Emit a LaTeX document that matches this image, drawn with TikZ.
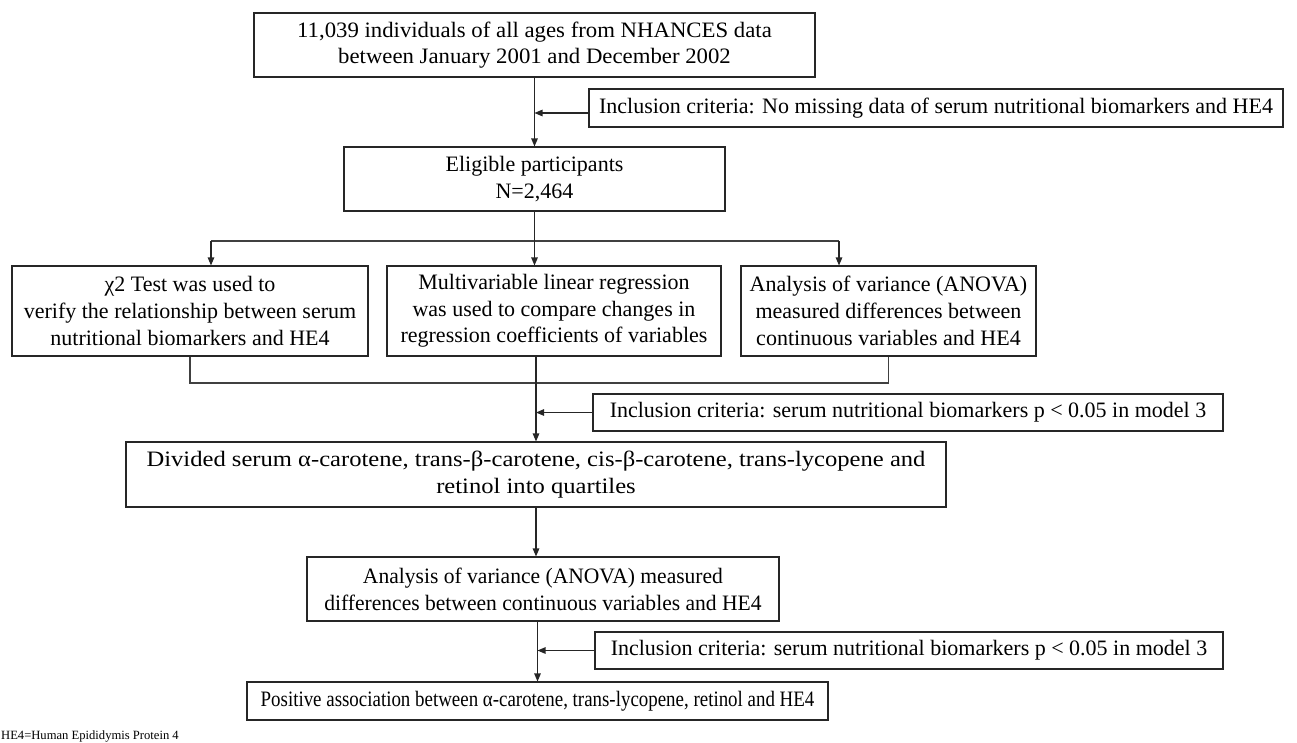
\documentclass[tikz,border=0pt]{standalone}
\usepackage{fontspec}
\setmainfont{Liberation Serif}
\usetikzlibrary{arrows.meta,calc}
\begin{document}
\begin{tikzpicture}[x=1pt,y=-1pt,
  box/.style={draw=black!85, line width=1.1pt, inner sep=0pt, align=center,
    font=\fontsize{22}{26.7}\selectfont},
  arr/.style={line width=1.1pt, draw=black!85, -{Triangle[length=8pt,width=6.5pt]}},
  ln/.style={line width=1.1pt, draw=black!75}]
\useasboundingbox (0,0) rectangle (1297,742);

\node[box, minimum width=561pt, minimum height=64pt] (top) at (534.5,45)
  {\scalebox{1.035}[1]{11,039 individuals of all ages from NHANCES data}\\\scalebox{1.035}[1]{between January 2001 and December 2002}};
\node[box, minimum width=694pt, minimum height=38pt] (inc1) at (936,108)
  {Inclusion criteria: No missing data of serum nutritional biomarkers and HE4};
\node[box, minimum width=381pt, minimum height=64pt] (elig) at (534.5,179)
  {Eligible participants\\N=2,464};
\node[box, minimum width=356pt, minimum height=90pt] (A) at (190,311)
  {χ2 Test was used to\\verify the relationship between serum\\nutritional biomarkers and HE4};
\node[box, minimum width=334pt, minimum height=90pt] (B) at (554,311)
  {Multivariable linear regression\\was used to compare changes in\\regression coefficients of variables};
\node[box, minimum width=295pt, minimum height=90pt] (C) at (888.5,311)
  {Analysis of variance (ANOVA)\\measured differences between\\continuous variables and HE4};
\node[box, minimum width=630pt, minimum height=37pt] (inc2) at (908,412.5)
  {Inclusion criteria: serum nutritional biomarkers p < 0.05 in model 3};
\node[box, minimum width=820pt, minimum height=65pt] (div) at (536,474.5)
  {\scalebox{1.118}[1]{Divided serum α-carotene, trans-β-carotene, cis-β-carotene, trans-lycopene and}\\\scalebox{1.118}[1]{retinol into quartiles}};
\node[box, minimum width=472pt, minimum height=64pt] (an2) at (543,589)
  {\scalebox{0.98}[1]{Analysis of variance (ANOVA) measured}\\\scalebox{0.98}[1]{differences between continuous variables and HE4}};
\node[box, minimum width=628pt, minimum height=37pt] (inc3) at (909,650.5)
  {Inclusion criteria: serum nutritional biomarkers p < 0.05 in model 3};
\node[box, minimum width=581pt, minimum height=38pt] (fin) at (537.5,701)
  {\scalebox{0.86}[1]{Positive association between α-carotene, trans-lycopene, retinol and HE4}};
\node[anchor=west, inner sep=0pt, font=\fontsize{12.6}{14}\selectfont] (note) at (1,736)
  {HE4=Human Epididymis Protein 4};

% top -> eligible
\draw[arr] (top.south) -- (elig.north);
\draw[arr] ([yshift=-5pt]inc1.west) -- ([yshift=-5pt]inc1.west -| top.south);

% split
\coordinate (sA) at (211,241);
\coordinate (sC) at (839,241);
\draw[ln] (sA) -- (sC);
\draw[arr] (elig.south) -- (elig.south |- B.north);
\draw[arr] (sA) -- (sA |- A.north);
\draw[arr] (sC) -- (sC |- C.north);

% merge
\coordinate (mrg) at (190,383);
\draw[ln] (A.south) -- (A.south |- mrg) -| (C.south);
\draw[arr] (B.south -| div.north) -- (div.north);
\draw[arr] (inc2.west) -- (inc2.west -| div.north);

% divided -> anova2
\draw[arr] (div.south) -- (div.south |- an2.north);

% anova2 -> final
\draw[arr] (an2.south -| fin.north) -- (fin.north);
\draw[arr] (inc3.west) -- (inc3.west -| fin.north);
\end{tikzpicture}
\end{document}
